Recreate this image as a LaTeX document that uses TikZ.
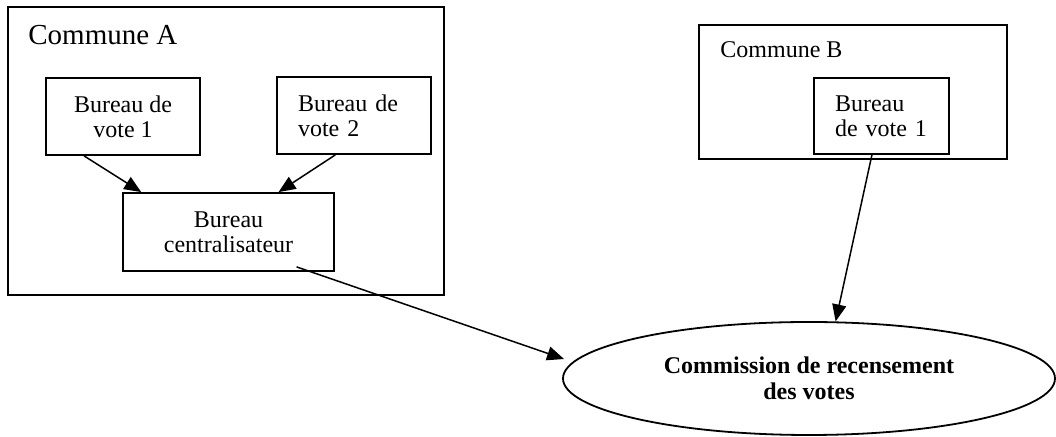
\documentclass[tikz,border=0pt]{standalone}
\usepackage{fontspec}
\setmainfont{Liberation Serif}
\usetikzlibrary{calc,positioning,arrows.meta,shapes.geometric}
\tikzset{
	>={Triangle[length=8.5pt,width=7pt]},
	cadre/.style={
		rectangle,
		draw=black, line width=0.9pt,
		inner sep=0pt},
	titre/.style={
		anchor=base west,
		inner sep=0pt},
	bureau/.style={
		rectangle,
		draw=black, line width=0.9pt,
		minimum width=77pt,
		minimum height=38.5pt,
		font=\fontsize{12}{12.5}\selectfont,
		align=center},
	bureaugauche/.style={bureau, text width=56pt, align=left},
	commission/.style={
		ellipse,
		draw=black, line width=0.9pt,
		minimum width=246pt,
		minimum height=56.5pt,
		inner sep=0pt,
		font=\fontsize{12}{13}\selectfont\bfseries,
		align=center},
	line/.style={draw, line width=0.75pt, ->},
}
\begin{document}
\begin{tikzpicture}[x=0.5pt, y=-0.5pt]
\useasboundingbox (0,0) rectangle (1056,437);

% commune A
\node[cadre, minimum width=218pt, minimum height=144pt] (communeA) at (226,151) {};
\node[titre, font=\fontsize{14.5}{17}\selectfont] (titreA) at (28,45) {Commune A};
\node[bureau] (bv1A) at (123,116.5) {Bureau de\\vote 1};
\node[bureaugauche] (bv2A) at (354,115.5) {Bureau de\\vote 2};
\node[bureau, minimum width=105.5pt, minimum height=39pt] (central) at (228.5,232) {Bureau\\centralisateur};

% commune B
\node[cadre, minimum width=154pt, minimum height=67pt] (communeB) at (853,92) {};
\node[titre, font=\fontsize{12}{14}\selectfont] (titreB) at (720,58) {Commune B};
\node[bureaugauche, minimum width=67.5pt, minimum height=38pt, text width=46.5pt] (bv1B) at (881.5,116) {Bureau\\de vote 1};

\node[commission] (commission) at (809,378.5) {Commission de recensement\\des votes};

\draw[line] ($(bv1A.south west)!0.25!(bv1A.south east)$) -- ($(central.north west)!0.09!(central.north east)$);
\draw[line] ($(bv2A.south west)!0.38!(bv2A.south east)$) -- ($(central.north west)!0.735!(central.north east)$);
\draw[line, shorten >=4.5pt] ($(central.south west)!0.82!(central.south east)+(0,2.5pt)$) -- (commission.176);
\draw[line] ($(bv1B.south west)!0.43!(bv1B.south east)$) -- (commission.65);
\end{tikzpicture}
\end{document}
